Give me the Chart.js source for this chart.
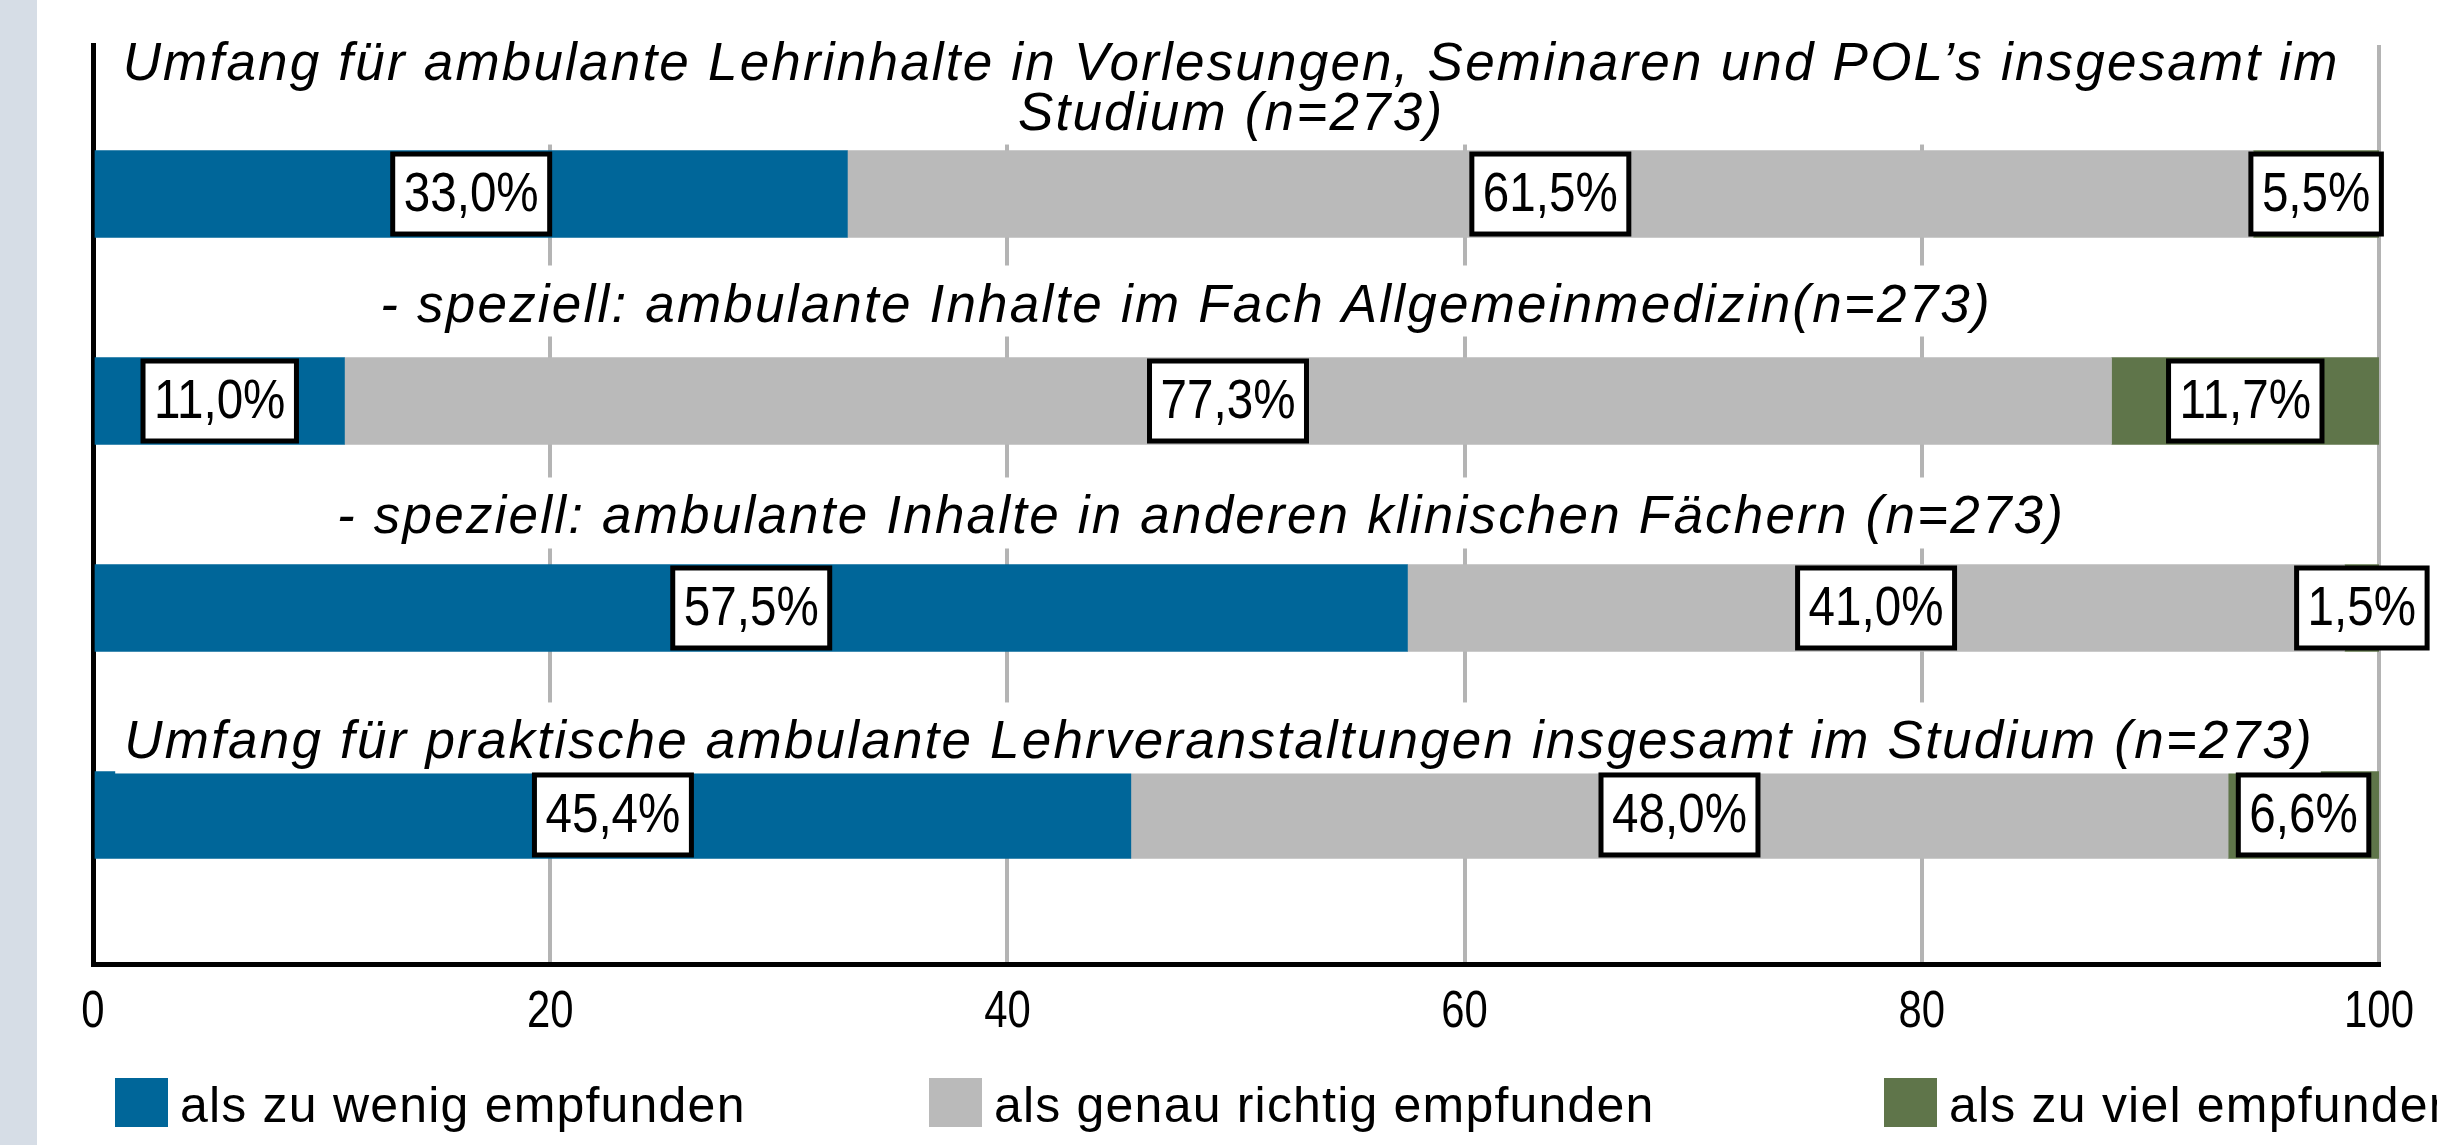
<!DOCTYPE html>
<html>
<head>
<meta charset="utf-8">
<script src="https://cdn.jsdelivr.net/npm/chart.js@4.4.0/dist/chart.umd.min.js"></script>
<style>
    html, body { margin: 0; padding: 0; background: #fff; overflow: hidden; }
    #strip { position: absolute; left: 0; top: 0; width: 37px; height: 1145px; background: #d6dde6; }
    #wrap { position: absolute; left: 0; top: 0; width: 2437px; height: 1145px; }
</style>
</head>
<body>
<div id="strip"></div>
<div id="wrap"><canvas id="chart"></canvas></div>
<script>
// Data
const categories = [
    ['Umfang für ambulante Lehrinhalte in Vorlesungen, Seminaren und POL’s insgesamt im', 'Studium (n=273)'],
    ['- speziell: ambulante Inhalte im Fach Allgemeinmedizin(n=273)'],
    ['- speziell: ambulante Inhalte in anderen klinischen Fächern (n=273)'],
    ['Umfang für praktische ambulante Lehrveranstaltungen insgesamt im Studium (n=273)']
];
const seriesNames = ['als zu wenig empfunden', 'als genau richtig empfunden', 'als zu viel empfunden'];
const zuWenig = [33.0, 11.0, 57.5, 45.4];
const genauRichtig = [61.5, 77.3, 41.0, 48.0];
const zuViel = [5.5, 11.7, 1.5, 6.6];
const xTicks = [0, 20, 40, 60, 80, 100];

const colors = ['#006699', '#bababa', '#5f754a'];
const SANS = '"Liberation Sans", Arial, sans-serif';

const toPoints = arr => arr.map((v, i) => ({ x: v, y: i }));

// draw text squeezed horizontally (the original uses a narrow face)
function narrowText(ctx, txt, x, y, squeeze) {
    ctx.save();
    ctx.translate(x, y);
    ctx.scale(squeeze, 1);
    ctx.fillText(txt, 0, 0);
    ctx.restore();
}

// italic category titles above each bar, with a white box behind
const titlePlugin = {
    id: 'barTitles',
    afterDatasetsDraw(chart, args, opts) {
        const ctx = chart.ctx;
        const meta = chart.getDatasetMeta(0);
        const area = chart.chartArea;
        const cx = (area.left + area.right) / 2;
        ctx.save();
        ctx.font = 'italic ' + opts.size + 'px ' + SANS;
        ctx.letterSpacing = opts.spacing + 'px';
        ctx.textAlign = 'center';
        ctx.textBaseline = 'alphabetic';
        categories.forEach((lines, i) => {
            const bar = meta.data[i];
            const top = bar.y - bar.height / 2;
            const x = cx + opts.dx[i];
            const lastBase = top - opts.gap[i];
            const n = lines.length;
            let maxW = 0;
            lines.forEach(t => { maxW = Math.max(maxW, ctx.measureText(t).width); });
            const boxTop = lastBase - (n - 1) * opts.lineHeight - opts.boxAbove;
            const boxBottom = lastBase + opts.boxBelow;
            ctx.fillStyle = '#fff';
            ctx.fillRect(x - maxW / 2 - 8, boxTop, maxW + 16, boxBottom - boxTop);
            ctx.fillStyle = '#000';
            lines.forEach((t, k) => {
                ctx.fillText(t, x + opts.spacing / 2, lastBase - (n - 1 - k) * opts.lineHeight);
            });
        });
        ctx.restore();
    }
};

// boxed percentage labels in each segment
const labelPlugin = {
    id: 'segLabels',
    afterDatasetsDraw(chart, args, opts) {
        const ctx = chart.ctx;
        ctx.save();
        ctx.font = opts.size + 'px ' + SANS;
        ctx.textAlign = 'center';
        ctx.textBaseline = 'middle';
        chart.data.datasets.forEach((ds, d) => {
            chart.getDatasetMeta(d).data.forEach((el, i) => {
                const txt = ds.data[i].x.toFixed(1).replace('.', ',') + '%';
                const w = ctx.measureText(txt).width * opts.squeeze + opts.padX * 2;
                const h = opts.boxHeight;
                const x = (el.x + el.base) / 2;
                const y = el.y;
                ctx.fillStyle = '#fff';
                ctx.fillRect(x - w / 2, y - h / 2, w, h);
                ctx.lineWidth = 5;
                ctx.strokeStyle = '#000';
                ctx.strokeRect(x - w / 2, y - h / 2, w, h);
                ctx.fillStyle = '#000';
                narrowText(ctx, txt, x, y + 2, opts.squeeze);
            });
        });
        ctx.restore();
    }
};

// x tick labels, drawn narrow
const tickPlugin = {
    id: 'narrowTicks',
    afterDraw(chart, args, opts) {
        const ctx = chart.ctx;
        const sx = chart.scales.x;
        ctx.save();
        ctx.font = opts.size + 'px ' + SANS;
        ctx.fillStyle = '#000';
        ctx.textAlign = 'center';
        ctx.textBaseline = 'middle';
        xTicks.forEach(v => {
            narrowText(ctx, String(v), sx.getPixelForValue(v), sx.top + opts.offset, opts.squeeze);
        });
        ctx.restore();
    }
};

// legend along the bottom, cut at the right edge like the original
const legendPlugin = {
    id: 'bottomLegend',
    afterDraw(chart, args, opts) {
        const ctx = chart.ctx;
        ctx.save();
        ctx.font = opts.size + 'px ' + SANS;
        ctx.letterSpacing = opts.spacing + 'px';
        ctx.textBaseline = 'alphabetic';
        chart.data.datasets.forEach((ds, i) => {
            const x = opts.xs[i];
            ctx.fillStyle = ds.backgroundColor;
            ctx.fillRect(x, opts.boxTop, 53, 49);
            ctx.fillStyle = '#000';
            ctx.fillText(ds.label, x + 65, opts.baseline);
        });
        ctx.restore();
    }
};

new Chart(document.getElementById('chart'), {
    type: 'bar',
    data: {
        datasets: [
            { label: seriesNames[0], data: toPoints(zuWenig), backgroundColor: colors[0] },
            { label: seriesNames[1], data: toPoints(genauRichtig), backgroundColor: colors[1] },
            { label: seriesNames[2], data: toPoints(zuViel), backgroundColor: colors[2] }
        ]
    },
    options: {
        indexAxis: 'y',
        responsive: true,
        maintainAspectRatio: false,
        animation: false,
        barThickness: 87,
        layout: { padding: { left: 93, right: 58, top: 45, bottom: 0 } },
        scales: {
            x: {
                type: 'linear',
                stacked: true,
                min: 0,
                max: 100,
                afterBuildTicks: s => { s.ticks = xTicks.map(v => ({ value: v })); },
                afterFit: s => { s.height = 181; },
                grid: {
                    color: c => (c.tick && c.tick.value === 0) ? 'rgba(0,0,0,0)' : '#b4b4b4',
                    lineWidth: 4,
                    drawTicks: false
                },
                border: { display: true, color: '#000', width: 5 },
                ticks: { display: false }
            },
            y: {
                type: 'linear',
                stacked: true,
                reverse: true,
                offset: false,
                min: -0.72,
                max: 3.72,
                afterFit: s => { s.width = 0; },
                grid: { display: false, offset: false },
                border: { display: true, color: '#000', width: 5 },
                ticks: { display: false }
            }
        },
        plugins: {
            legend: { display: false },
            tooltip: { enabled: false },
            barTitles: {
                size: 53, spacing: 2.2, lineHeight: 50,
                gap: [21, 36, 31, 13], dx: [-6, -51, -36, -18],
                boxAbove: 56, boxBelow: 15
            },
            segLabels: { size: 56, squeeze: 0.85, padX: 11, boxHeight: 80 },
            narrowTicks: { size: 51, squeeze: 0.82, offset: 49 },
            bottomLegend: { size: 50, spacing: 1.2, xs: [115, 929, 1884], boxTop: 1078, baseline: 1122 }
        }
    },
    plugins: [titlePlugin, labelPlugin, tickPlugin, legendPlugin]
});
</script>
</body>
</html>
